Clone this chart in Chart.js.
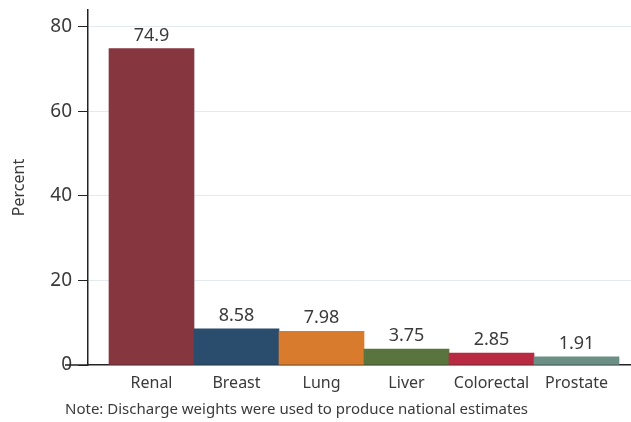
<!DOCTYPE html>
<html>
<head>
<meta charset="utf-8">
<script src="https://cdn.jsdelivr.net/npm/chart.js@4"></script>
<style>
  html, body { margin: 0; padding: 0; background: #fff; }
  #wrap { width: 631px; height: 422px; position: relative; }
</style>
</head>
<body>
<div id="wrap"><canvas id="chart"></canvas></div>
<script>
var labels = ["Renal", "Breast", "Lung", "Liver", "Colorectal", "Prostate"];
var values = [74.9, 8.58, 7.98, 3.75, 2.85, 1.91];
var valueText = ["74.9", "8.58", "7.98", "3.75", "2.85", "1.91"];
var colors = ['#85363f', '#2a4d6e', '#d97b2c', '#5a743d', '#b82a42', '#6b8f84'];
var yTicks = [0, 20, 40, 60, 80];
var note = "Note: Discharge weights were used to produce national estimates";

var FONT = "'Noto Sans', sans-serif";
var TXT = '#3a3a3a';

var valueLabels = {
  id: 'valueLabels',
  afterDatasetsDraw: function(chart) {
    var ctx = chart.ctx;
    var meta = chart.getDatasetMeta(0);
    ctx.save();
    ctx.font = '18px ' + FONT;
    ctx.fillStyle = TXT;
    ctx.textAlign = 'center';
    ctx.textBaseline = 'bottom';
    meta.data.forEach(function(bar, i) {
      ctx.fillText(valueText[i], bar.x, bar.y - 4);
    });
    ctx.restore();
  },
  afterDraw: function(chart) {
    var ctx = chart.ctx;
    var a = chart.chartArea;
    ctx.save();
    // axis line runs a bit past the y axis
    ctx.strokeStyle = '#222';
    ctx.lineWidth = 1.5;
    ctx.beginPath();
    ctx.moveTo(a.left - 23, a.bottom);
    ctx.lineTo(a.left, a.bottom);
    ctx.stroke();
    ctx.font = '15px ' + FONT;
    ctx.fillStyle = TXT;
    ctx.textAlign = 'left';
    ctx.textBaseline = 'middle';
    ctx.fillText(note, a.left - 23, 410);
    ctx.restore();
  }
};

new Chart(document.getElementById('chart').getContext('2d'), {
  type: 'bar',
  data: {
    datasets: [{
      data: values.map(function(v, i) { return { x: i, y: v }; }),
      backgroundColor: colors,
      borderWidth: 0,
      barPercentage: 1,
      categoryPercentage: 1
    }]
  },
  options: {
    responsive: true,
    maintainAspectRatio: false,
    animation: false,
    layout: { padding: { top: 10, left: 0, right: 0, bottom: 0 } },
    plugins: { legend: { display: false }, tooltip: { enabled: false } },
    scales: {
      x: {
        type: 'linear',
        offset: false,
        min: -0.747,
        max: 5.641,
        afterBuildTicks: function(s) { s.ticks = labels.map(function(_, i) { return { value: i }; }); },
        afterFit: function(s) { s.height = 57; s.paddingLeft = 0; s.paddingRight = 0; },
        grid: { display: false },
        border: { display: true, color: '#222', width: 1.5 },
        ticks: {
          autoSkip: false,
          maxRotation: 0,
          padding: 1,
          color: TXT,
          font: { family: FONT, size: 16 },
          callback: function(v) { return labels[v]; }
        }
      },
      y: {
        min: 0,
        max: 84,
        afterBuildTicks: function(s) { s.ticks = yTicks.map(function(v) { return { value: v }; }); },
        afterFit: function(s) { s.width = 88; s.paddingTop = 0; s.paddingBottom = 0; },
        grid: {
          color: function(c) { return c.tick && c.tick.value === 0 ? 'rgba(0,0,0,0)' : '#e4ebf0'; },
          tickColor: '#222',
          tickLength: 10,
          lineWidth: 1
        },
        border: { display: true, color: '#222', width: 1.5 },
        ticks: {
          padding: 6,
          color: TXT,
          font: { family: FONT, size: 19 }
        },
        title: {
          display: true,
          text: 'Percent',
          color: TXT,
          font: { family: FONT, size: 16 },
          padding: { top: 10, bottom: 0 }
        }
      }
    }
  },
  plugins: [valueLabels]
});
</script>
</body>
</html>
